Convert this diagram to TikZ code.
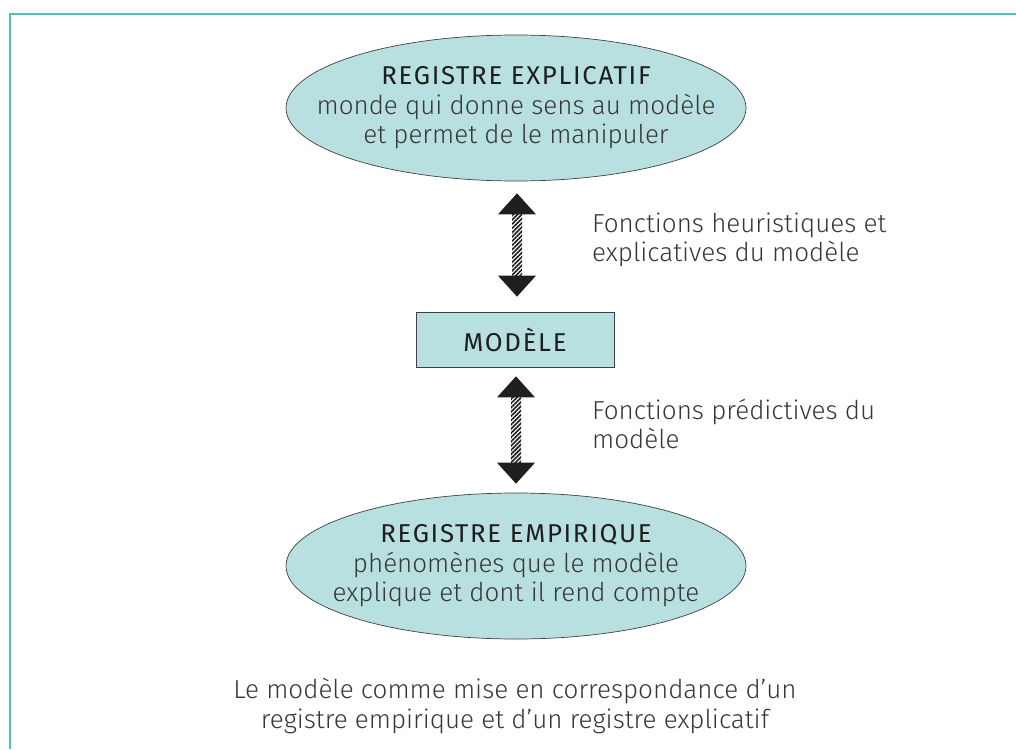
\documentclass[tikz,border=0pt]{standalone}
\usepackage{fontspec}
\setmainfont{Fira Sans Light}
\newfontfamily\headfont{Fira Sans}[LetterSpace=6.5]
\usetikzlibrary{shapes.geometric,patterns.meta,calc}
\definecolor{tealfill}{RGB}{185,224,224}
\definecolor{frameteal}{RGB}{84,186,186}
\definecolor{txt}{RGB}{55,55,55}
\definecolor{headtxt}{RGB}{30,30,30}
\newcommand\hatcharrow[2]{%
  \path[pattern={Lines[angle=45,distance=3pt,line width=1.6pt]},pattern color=black!90]
    ($(#1)+(-5,18)$) rectangle ($(#2)+(5,-18)$);
  \fill[black!88] (#1) -- ++(-19,21) -- ++(38,0) -- cycle;
  \fill[black!88] (#2) -- ++(-19,-21) -- ++(38,0) -- cycle;
}
\newcommand\headtext[1]{{\headfont\fontsize{25.8}{29}\selectfont\color{headtxt}#1}}
\begin{document}
\begin{tikzpicture}[x=1pt,y=-1pt,
  every node/.style={text=txt,font=\fontsize{26}{29.5}\selectfont},
  regist/.style={ellipse,draw=black!75,line width=0.7pt,fill=tealfill,
    minimum width=460,minimum height=146,inner sep=0pt},
  intext/.style={align=center,inner sep=0pt},
  modbox/.style={rectangle,draw=black!75,line width=0.7pt,fill=tealfill,
    minimum width=198,minimum height=55,inner sep=0pt},
  fnlabel/.style={anchor=west,align=left,inner sep=0pt},
  frame/.style={draw=frameteal,line width=1.6pt}]
\useasboundingbox (0,0) rectangle (1016,749);
\draw[frame] (10,749) -- (10,14) -- (1016,14);

\node[regist,label={[intext]center:\headtext{REGISTRE EXPLICATIF}\\monde qui donne sens au modèle\\et permet de le manipuler}] (expl) at (516,108) {};
\node[modbox] (mod) at (515,339.5) {\headtext{MODÈLE}};
\node[regist,label={[intext]center:\headtext{REGISTRE EMPIRIQUE}\\phénomènes que le modèle\\explique et dont il rend compte}] (emp) at (516,566) {};

\coordinate (a1t) at ($(expl.south)+(1,12)$);
\coordinate (a1b) at ($(mod.north)+(2,-15)$);
\coordinate (a2t) at ($(mod.south)+(1,9)$);
\coordinate (a2b) at ($(emp.north)+(0,-9)$);
\hatcharrow{a1t}{a1b}
\hatcharrow{a2t}{a2b}

\node[fnlabel] (f1) at (592,240) {Fonctions heuristiques et\\explicatives du modèle};
\node[fnlabel] (f2) at (592,424) {Fonctions prédictives du\\modèle};
\node[align=center,inner sep=0pt] (cap) at (515,706)
  {Le modèle comme mise en correspondance d’un\\registre empirique et d’un registre explicatif};
\end{tikzpicture}
\end{document}
